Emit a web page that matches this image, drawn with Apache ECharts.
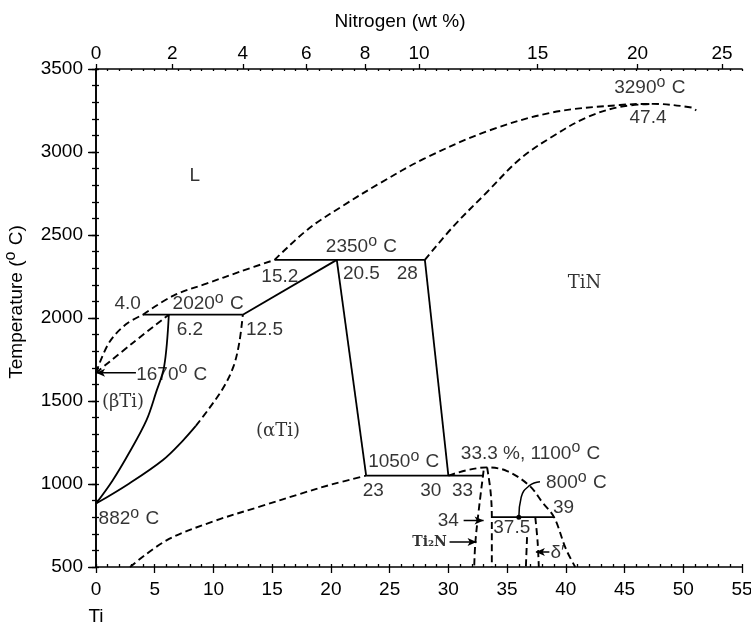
<!DOCTYPE html>
<html><head><meta charset="utf-8">
<script src="https://cdn.jsdelivr.net/npm/echarts@6/dist/echarts.min.js"></script>
<style>html,body{margin:0;padding:0;background:#fff}#c{width:751px;height:626px}</style>
</head><body><div id="c"></div>
<script>
// ---- axis tick data ----
const wtTickLabels = ['0','2','4','6','8','10','15','20','25'];
const wtTickAt = [0, 6.5, 12.5, 17.9, 22.9, 27.5, 37.6, 46.1, 53.3]; // at% position of each wt% tick

// ---- phase boundaries (x = N at%, y = T °C) ----
const liquidusLow  = [[0,1670],[1.1,1850],[2.55,1962],[4.0,2020]];
const liquidusMid  = [[4.0,2020],[6.6,2135],[9.4,2207],[12.3,2280],[15.2,2350]];
const liquidusHigh = [[15.2,2350],[18.1,2538],[21.0,2675],[24.1,2809],[27.9,2958],[33.3,3125],[38.9,3239],[44.6,3283],[47.4,3290],[50.7,3268],[51.1,3250]];
const solidusTiN   = [[28,2350],[30.4,2550],[33.3,2759],[36.1,2958],[38.9,3095],[41.8,3209],[44.6,3272],[47.4,3290]];
const solidusBeta  = [[0,1670],[3.1,1848],[6.2,2020]];
const betaTransus  = [[6.2,2020],[5.8,1707],[5.1,1549],[4.3,1385],[2.8,1185],[1.4,1020],[0,882]];
const alphaTransus = [[0,882],[2.8,1002],[5.7,1145],[7.4,1262],[8.5,1350]];
const alphaTransusDash = [[8.5,1350],[9.6,1452],[10.8,1575],[11.7,1707],[12.2,1852],[12.5,2020]];
const alphaLower   = [[2.9,500],[6.0,660],[10.0,775],[14.0,865],[17.4,941],[20.0,996],[23,1050]];
const ti2nDome     = [[30,1050],[31.5,1082],[33.3,1100],[35.0,1078],[36.9,990],[38.0,890],[39,800],[40.0,610],[40.8,500]];
const ti2nLeft     = [[33.0,1080],[32.6,850],[32.3,650],[32.2,500]];
const ti2nRight    = [[33.3,1100],[33.6,950],[33.7,800],[33.7,500]];
const deltaLeft    = [[36.7,680],[36.6,500]];
const deltaRight   = [[37.4,800],[37.6,650],[37.7,500]];

const iso2020 = [[4.0,2020],[12.5,2020]];
const iso2350 = [[15.2,2350],[28,2350]];
const iso1050 = [[23,1050],[33,1050]];
const iso800  = [[33.7,800],[39,800]];
const alphaTiNTop  = [[12.5,2020],[20.5,2350]];
const alphaTiNSide = [[20.5,2350],[23,1050]];
const tinSide      = [[28,2350],[30,1050]];

// ---- pointers ----
const ptr1670  = [[3.4,1670],[0,1670]];
const ptr34    = [[31.3,780],[33.0,780]];
const ptrTi2N  = [[30.1,650],[32.4,650]];
const ptrDelta = [[38.6,590],[37.45,590]];
const ptr800   = [[37.8,1014],[36.9,990],[36.2,920],[36.0,800]];

// ---- annotations [x, T, text] ----
const sansLabels = [
  [8.4,2857,'L'],
  [47.15,3386,'3290° C'],
  [47.0,3207,'47.4'],
  [2.7,2085,'4.0'],
  [9.55,2085,'2020° C'],
  [8.0,1931,'6.2'],
  [14.35,1931,'12.5'],
  [6.45,1660,'1670° C'],
  [2.8,790,'882° C'],
  [15.65,2251,'15.2'],
  [22.6,2430,'2350° C'],
  [22.6,2269,'20.5'],
  [26.5,2269,'28'],
  [26.2,1132,'1050° C'],
  [23.6,962,'23'],
  [28.5,962,'30'],
  [31.2,962,'33'],
  [37.0,1184,'33.3 %, 1100° C'],
  [40.9,1008,'800° C'],
  [39.8,854,'39'],
  [30.0,777,'34'],
  [35.4,736,'37.5'],
  [39.3,585,'δ′']
];
const serifLabels = [[41.6,2209,'TiN'],[2.3,1490,'(βTi)'],[15.5,1316,'(αTi)']];
const smallSerifLabels = [[28.4,648,'Ti₂N']];

const F = 'Liberation Sans';
const FS = 19;
const degRich = {d:{fontSize:16, fontFamily:F, color:'#000', padding:[0,1,11,0]}};
const fmt = s => s.replace('°','{d|o}');

function dashed(data){
  return {type:'line', data, smooth:0.35, symbol:'none', silent:true, animation:false,
    lineStyle:{color:'#000', width:1.9, type:[7,4]}};
}
function solid(data, smooth){
  return {type:'line', data, smooth: smooth||false, symbol:'none', silent:true, animation:false,
    lineStyle:{color:'#000', width:1.8}};
}
function arrowLine(data, rot){
  const d = data.map((p,i)=> i===data.length-1 ? {value:p, symbol:'arrow', symbolSize:[6,9], symbolRotate:rot} : {value:p, symbol:'none'});
  return {type:'line', data:d, symbol:'none', showSymbol:true, silent:true, animation:false,
    itemStyle:{color:'#000'}, lineStyle:{color:'#000', width:1.5}};
}
function labels(arr, font, size, weight){
  return {type:'scatter', data: arr.map(a=>[a[0],a[1]]), symbolSize:1, silent:true, animation:false,
    itemStyle:{color:'transparent'},
    label:{show:true, position:'inside', color:'#000', fontFamily:font, fontSize:size, fontWeight:weight||'normal',
      formatter: p => fmt(arr[p.dataIndex][2]), rich: degRich}};
}

const axLine = {lineStyle:{color:'#000', width:1.6}};
const tickStyle = {color:'#000', width:1.3};
const txt = {color:'#000', fontFamily:F, fontSize:FS};

const option = {
  backgroundColor:'#fff',
  animation:false,
  grid:{left:96, right:9, top:69, bottom:59, containLabel:false, outerBoundsMode:'none'},
  xAxis:[
    {type:'value', position:'bottom', min:0, max:55, interval:5,
     axisLine:axLine, axisTick:{length:6, lineStyle:tickStyle}, splitLine:{show:false},
     axisLabel:Object.assign({margin:9, lineHeight:27, formatter: v => v===0 ? '0\nTi' : String(v)}, txt),
     name:'Nitrogen (at %)', nameLocation:'middle', nameGap:36,
     nameTextStyle:Object.assign({padding:[0,28,0,0]}, txt)},
    {type:'value', position:'top', min:0, max:55,
     axisLine:axLine, axisTick:{length:5, customValues:wtTickAt, lineStyle:tickStyle}, splitLine:{show:false},
     axisLabel:Object.assign({margin:6, customValues:wtTickAt,
       formatter: v => { let i = wtTickAt.findIndex(t=>Math.abs(t-v)<1e-6); return i>=0 ? wtTickLabels[i] : ''; }}, txt),
     name:'Nitrogen (wt %)', nameLocation:'middle', nameGap:38,
     nameTextStyle:Object.assign({padding:[0,38,0,0]}, txt)},
    {type:'value', position:'bottom', min:0, max:55, interval:1,
     axisLine:{show:false}, axisTick:{inside:true, length:3, lineStyle:tickStyle}, axisLabel:{show:false}, splitLine:{show:false}},
    {type:'value', position:'top', min:0, max:55, interval:1,
     axisLine:{show:false}, axisTick:{inside:true, length:2, lineStyle:tickStyle}, axisLabel:{show:false}, splitLine:{show:false}}
  ],
  yAxis:[
    {type:'value', position:'left', min:500, max:3500, interval:500,
     axisLine:axLine, axisTick:{length:8, lineStyle:tickStyle}, splitLine:{show:false},
     axisLabel:Object.assign({margin:13, formatter: v => String(v)}, txt),
     name:'Temperature ({d|o} C)', nameLocation:'middle', nameGap:66, nameRotate:90,
     nameTextStyle:Object.assign({padding:[0,0,0,32], rich:degRich}, txt)},
    {type:'value', position:'left', min:500, max:3500, interval:100,
     axisLine:{show:false}, axisTick:{inside:true, length:3, lineStyle:tickStyle}, axisLabel:{show:false}, splitLine:{show:false}},
    {type:'value', position:'right', min:500, max:3500, interval:100,
     axisLine:axLine, axisTick:{inside:true, length:4, lineStyle:tickStyle}, axisLabel:{show:false}, splitLine:{show:false}},
    {type:'value', position:'right', min:500, max:3500, interval:500,
     axisLine:{show:false}, axisTick:{inside:true, length:7, lineStyle:tickStyle}, axisLabel:{show:false}, splitLine:{show:false}}
  ],
  series:[
    dashed(liquidusLow), dashed(liquidusMid), dashed(liquidusHigh), dashed(solidusTiN),
    dashed(solidusBeta), dashed(alphaTransusDash), dashed(alphaLower), dashed(ti2nDome),
    dashed(ti2nLeft), dashed(ti2nRight), dashed(deltaLeft), dashed(deltaRight),
    solid(iso2020), solid(iso2350), solid(iso1050), solid(iso800),
    solid(alphaTiNTop), solid(alphaTiNSide), solid(tinSide),
    solid(betaTransus, 0.35), solid(alphaTransus, 0.35),
    arrowLine(ptr1670, 90), arrowLine(ptr34, -90), arrowLine(ptrTi2N, -90), arrowLine(ptrDelta, 90),
    {type:'line', data: ptr800.map((p,i)=> i===ptr800.length-1 ? {value:p, symbol:'circle', symbolSize:5} : {value:p, symbol:'none'}),
     smooth:0.5, symbol:'none', showSymbol:true, silent:true, animation:false,
     itemStyle:{color:'#000'}, lineStyle:{color:'#000', width:1.5}},
    labels(sansLabels, F, FS),
    labels(serifLabels, 'DejaVu Serif', 18),
    labels(smallSerifLabels, 'DejaVu Serif', 14, 'bold')
  ]
};
const chart = echarts.init(document.getElementById('c'), null, {renderer:'canvas'});
chart.setOption(option);
</script>
</body></html>
